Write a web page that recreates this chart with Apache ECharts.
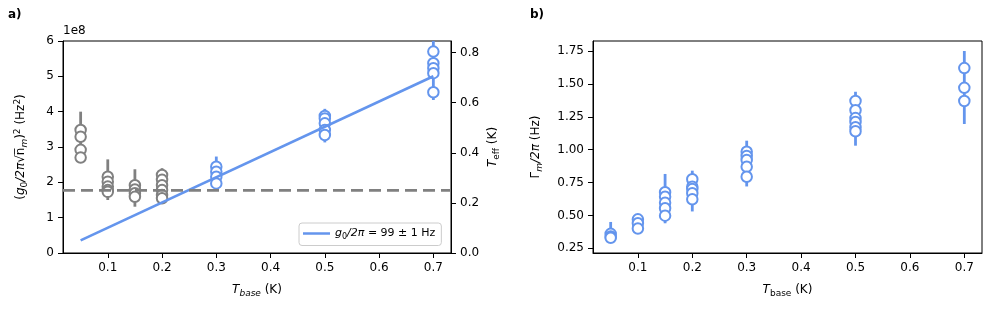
<!doctype html>
<html>
<head>
<meta charset="UTF-8">
<title>Coupling and linewidth vs base temperature</title>
<script src="https://cdn.jsdelivr.net/npm/echarts@6/dist/echarts.min.js"></script>
<style>
    html, body { margin: 0; padding: 0; background: #fff; }
    #chart { width: 996px; height: 320px; }
</style>
</head>
<body>
<div id="chart"></div>
<script>
// x tick labels (K)
var xTicks = [0.1, 0.2, 0.3, 0.4, 0.5, 0.6, 0.7];
var tEffTicks = [0, 0.2, 0.4, 0.6, 0.8];
var gammaTicks = [0.25, 0.5, 0.75, 1.0, 1.25, 1.5, 1.75];

// panel a: (g0/2pi sqrt(n_m))^2, in units of 1e8 Hz^2
var couplingGray = [[0.05,3.48],[0.05,3.29],[0.05,2.92],[0.05,2.70],
    [0.1,2.16],[0.1,2.02],[0.1,1.88],[0.1,1.78],[0.1,1.73],
    [0.15,1.92],[0.15,1.80],[0.15,1.69],[0.15,1.59],
    [0.2,2.21],[0.2,2.07],[0.2,1.92],[0.2,1.78],[0.2,1.64],[0.2,1.55]];
var couplingBlue = [[0.3,2.44],[0.3,2.30],[0.3,2.16],[0.3,1.97],
    [0.5,3.88],[0.5,3.81],[0.5,3.67],[0.5,3.48],[0.5,3.34],
    [0.7,5.70],[0.7,5.37],[0.7,5.23],[0.7,5.09],[0.7,4.55]];
// [T, low, high]
var couplingGrayErr = [[0.05,2.58,4.0],[0.1,1.5,2.65],[0.15,1.31,2.37],[0.2,1.41,2.40]];
var couplingBlueErr = [[0.3,1.88,2.73],[0.5,3.13,4.08],[0.7,4.33,6.0]];
var fitLine = [[0.05,0.357],[0.7,5.0]];
var tEffLevel = 0.25;

// panel b: Gamma_m/2pi (Hz)
var gammaPts = [[0.05,0.36],[0.05,0.34],[0.05,0.33],
    [0.1,0.47],[0.1,0.44],[0.1,0.40],
    [0.15,0.676],[0.15,0.642],[0.15,0.597],[0.15,0.554],[0.15,0.498],
    [0.2,0.775],[0.2,0.718],[0.2,0.70],[0.2,0.668],[0.2,0.622],
    [0.3,0.984],[0.3,0.952],[0.3,0.921],[0.3,0.87],[0.3,0.794],
    [0.5,1.37],[0.5,1.30],[0.5,1.24],[0.5,1.21],[0.5,1.17],[0.5,1.14],
    [0.7,1.62],[0.7,1.47],[0.7,1.37]];
var gammaErr = [[0.05,0.30,0.45],[0.1,0.38,0.49],[0.15,0.44,0.815],[0.2,0.53,0.84],
    [0.3,0.72,1.068],[0.5,1.03,1.44],[0.7,1.195,1.75]];

var blue = '#6495ED';
var gray = '#808080';
var font = 'DejaVu Sans';

// sub/superscripts: glyphs sit at the bottom/top of a 16px line
var rich = {
    n: { fontSize: 12, lineHeight: 16, fontFamily: font, color: '#000' },
    it: { fontSize: 12, lineHeight: 16, fontFamily: font, color: '#000', fontStyle: 'italic' },
    sub: { fontSize: 9, lineHeight: 12, verticalAlign: 'bottom', fontFamily: font, color: '#000' },
    itsub: { fontSize: 9, lineHeight: 12, verticalAlign: 'bottom', fontFamily: font, color: '#000', fontStyle: 'italic' },
    sup: { fontSize: 9, lineHeight: 12, verticalAlign: 'top', fontFamily: font, color: '#000' }
};

function errBars(color) {
    return function (params, api) {
        var lo = api.coord([api.value(0), api.value(1)]);
        var hi = api.coord([api.value(0), api.value(2)]);
        return {
            type: 'line',
            shape: { x1: lo[0], y1: lo[1], x2: hi[0], y2: hi[1] },
            style: { stroke: color, lineWidth: 2.8 }
        };
    };
}

function xAxisCfg(idx, name) {
    return {
        gridIndex: idx, type: 'value', min: 0.0175, max: 0.7325,
        axisLine: { lineStyle: { color: '#000', width: 1 } },
        axisTick: { customValues: xTicks, length: 5, lineStyle: { color: '#000' } },
        axisLabel: { customValues: xTicks, margin: 9, fontSize: 12, fontFamily: font, color: '#000',
            formatter: function (v) { return v.toFixed(1); } },
        splitLine: { show: false },
        name: name, nameLocation: 'middle', nameGap: 29,
        nameTextStyle: { rich: rich }
    };
}

function yAxisCfg(idx, min, max, ticks, digits, name, gap, pos) {
    return {
        gridIndex: idx, type: 'value', min: min, max: max, position: pos,
        axisLine: { show: true, lineStyle: { color: '#000', width: 1 } },
        axisTick: { show: true, customValues: ticks, length: 5, lineStyle: { color: '#000' } },
        axisLabel: { customValues: ticks, margin: 9, fontSize: 12, fontFamily: font, color: '#000',
            formatter: function (v) { return v.toFixed(digits); } },
        splitLine: { show: false },
        name: name, nameLocation: 'middle', nameGap: gap,
        nameTextStyle: { rich: rich }
    };
}

var chart = echarts.init(document.getElementById('chart'));
var option = {
    animation: false,
    backgroundColor: '#fff',
    grid: [
        { left: 63, top: 41, width: 388, height: 212, show: true, borderColor: '#000', borderWidth: 1 },
        { left: 593, top: 41, width: 389, height: 212, show: true, borderColor: '#000', borderWidth: 1 }
    ],
    xAxis: [
        xAxisCfg(0, '{it|T}{itsub|base}{n| (K)}'),
        xAxisCfg(1, '{it|T}{sub|base}{n| (K)}')
    ],
    yAxis: [
        yAxisCfg(0, 0, 6, [0, 1, 2, 3, 4, 5, 6], 0,
            '{n|(}{it|g}{sub|0}{it|/2π}{n|√}{n|n\u0305}{itsub|m}{n|)}{sup|2}{n| (Hz}{sup|2}{n|)}', 34, 'left'),
        yAxisCfg(0, 0, 0.8465, tEffTicks, 1, '{it|T}{sub|eff}{n| (K)}', 34, 'right'),
        yAxisCfg(1, 0.214, 1.826, gammaTicks, 2, '{n|Γ}{itsub|m}{it|/2π}{n| (Hz)}', 49, 'left')
    ],
    legend: {
        data: [{ name: 'fit', icon: 'rect' }],
        left: 299, top: 223,
        itemWidth: 27, itemHeight: 2.5, itemGap: 6,
        padding: [5, 6, 5, 4],
        borderColor: '#cccccc', borderWidth: 1, borderRadius: 3,
        backgroundColor: '#fff',
        formatter: function () { return '{it|g}{sub|0}{it|/2π}{n| = 99 ± 1 Hz}'; },
        textStyle: { rich: {
            n: { fontSize: 11, lineHeight: 14, fontFamily: font, color: '#000' },
            it: { fontSize: 11, lineHeight: 14, fontFamily: font, color: '#000', fontStyle: 'italic' },
            sub: { fontSize: 8, lineHeight: 10, verticalAlign: 'bottom', fontFamily: font, color: '#000' }
        } }
    },
    graphic: [
        { type: 'text', left: 8, top: 9, style: { text: 'a)', font: 'bold 12px DejaVu Sans', fill: '#000' } },
        { type: 'text', left: 530, top: 9, style: { text: 'b)', font: 'bold 12px DejaVu Sans', fill: '#000' } },
        { type: 'text', left: 63, top: 25, style: { text: '1e8', font: '12px DejaVu Sans', fill: '#000' } }
    ],
    series: [
        { type: 'custom', xAxisIndex: 0, yAxisIndex: 0, renderItem: errBars(gray),
          encode: { x: 0, y: [1, 2] }, data: couplingGrayErr, z: 2 },
        { type: 'custom', xAxisIndex: 0, yAxisIndex: 0, renderItem: errBars(blue),
          encode: { x: 0, y: [1, 2] }, data: couplingBlueErr, z: 2 },
        { type: 'scatter', xAxisIndex: 0, yAxisIndex: 0, symbol: 'circle', symbolSize: 10.5,
          itemStyle: { color: '#fff', borderColor: gray, borderWidth: 2, opacity: 1 },
          data: couplingGray, z: 3 },
        { type: 'scatter', xAxisIndex: 0, yAxisIndex: 0, symbol: 'circle', symbolSize: 10.5,
          itemStyle: { color: '#fff', borderColor: blue, borderWidth: 2, opacity: 1 },
          data: couplingBlue, z: 3 },
        { name: 'fit', type: 'line', xAxisIndex: 0, yAxisIndex: 0, symbol: 'none',
          lineStyle: { color: blue, width: 2.7 }, itemStyle: { color: blue },
          data: fitLine, z: 4 },
        { type: 'line', xAxisIndex: 0, yAxisIndex: 1, symbol: 'none',
          lineStyle: { color: gray, width: 2.7, type: [12, 6] },
          data: [[0.0175, tEffLevel], [0.7325, tEffLevel]], z: 4 },
        { type: 'custom', xAxisIndex: 1, yAxisIndex: 2, renderItem: errBars(blue),
          encode: { x: 0, y: [1, 2] }, data: gammaErr, z: 2 },
        { type: 'scatter', xAxisIndex: 1, yAxisIndex: 2, symbol: 'circle', symbolSize: 10.5,
          itemStyle: { color: '#fff', borderColor: blue, borderWidth: 2, opacity: 1 },
          data: gammaPts, z: 3 }
    ]
};
chart.setOption(option);
</script>
</body>
</html>
